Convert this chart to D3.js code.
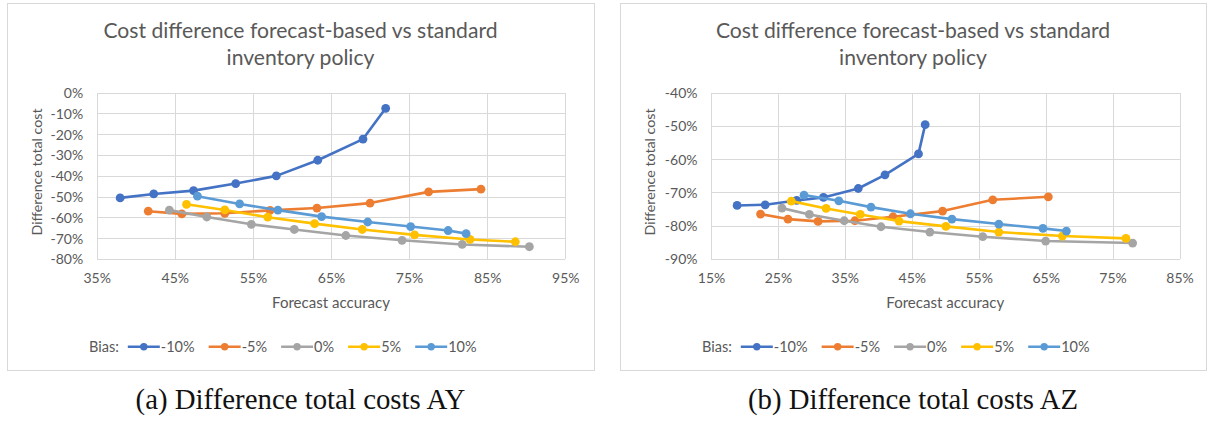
<!DOCTYPE html>
<html>
<head>
<meta charset="utf-8">
<script src="https://cdn.jsdelivr.net/npm/d3@7"></script>
<style>
  html, body { margin: 0; padding: 0; background: #ffffff; }
  svg { display: block; }
</style>
</head>
<body>
<svg id="fig" width="1209" height="422"></svg>
<script>
// ---- data -------------------------------------------------------------
const biasLabels = ["-10%", "-5%", "0%", "5%", "10%"];
const seriesColors = ["#4472C4", "#ED7D31", "#A5A5A5", "#FFC000", "#5B9BD5"];

// Panel (a): AY — forecast accuracy (%) and cost difference (%) per bias
const ayAccuracy = [
  [38.0, 42.3, 47.4, 52.8, 58.0, 63.3, 69.1, 72.0],
  [41.6, 45.9, 51.4, 57.2, 63.2, 70.0, 77.5, 84.2],
  [44.3, 49.1, 54.8, 60.3, 66.9, 74.1, 81.8, 90.4],
  [46.5, 51.4, 56.9, 62.9, 69.0, 75.7, 82.8, 88.6],
  [47.9, 53.3, 58.2, 63.8, 69.7, 75.2, 80.0, 82.3]
];
const ayCost = [
  [-50.6, -48.7, -47.1, -43.7, -40.0, -32.5, -22.3, -7.5],
  [-57.0, -58.3, -58.0, -56.6, -55.5, -53.1, -47.7, -46.4],
  [-56.5, -59.8, -63.3, -65.8, -68.7, -71.0, -73.0, -74.1],
  [-53.7, -56.4, -59.9, -63.0, -65.8, -68.4, -70.6, -71.7],
  [-49.8, -53.5, -56.5, -59.6, -62.2, -64.4, -66.3, -67.8]
];
const ayXTicks = [35, 45, 55, 65, 75, 85, 95];
const ayYTicks = [0, -10, -20, -30, -40, -50, -60, -70, -80];

// Panel (b): AZ
const azAccuracy = [
  [18.9, 23.1, 27.8, 31.8, 37.0, 41.0, 46.0, 47.0],
  [22.4, 26.5, 31.0, 36.5, 42.2, 49.6, 57.1, 65.4],
  [25.6, 29.7, 34.9, 40.4, 47.7, 55.6, 65.0, 78.0],
  [27.0, 32.2, 37.3, 43.1, 50.1, 58.0, 67.5, 77.0],
  [28.9, 34.1, 38.9, 44.8, 51.0, 58.0, 64.6, 68.1]
];
const azCost = [
  [-73.9, -73.7, -72.4, -71.5, -68.8, -64.7, -58.4, -49.6],
  [-76.5, -78.0, -78.7, -78.5, -77.3, -75.6, -72.2, -71.3],
  [-74.7, -76.6, -78.5, -80.3, -81.9, -83.3, -84.6, -85.2],
  [-72.6, -74.8, -76.6, -78.6, -80.2, -81.9, -83.1, -83.8],
  [-70.8, -72.5, -74.4, -76.4, -78.0, -79.5, -80.8, -81.6]
];
const azXTicks = [15, 25, 35, 45, 55, 65, 75, 85];
const azYTicks = [-40, -50, -60, -70, -80, -90];

const chartTitle = ["Cost difference forecast-based vs standard", "inventory policy"];
const xTitle = "Forecast accuracy";
const yTitle = "Difference total cost";
const legendTitle = "Bias:";
const captions = ["(a) Difference total costs AY", "(b) Difference total costs AZ"];

// ---- drawing ----------------------------------------------------------
const svg = d3.select("#fig");
const UI_FONT = "Lato, 'Open Sans', sans-serif";
const TEXT_COLOR = "#595959";
const GRID_COLOR = "#D9D9D9";
const TICK_FS = 14;
const LEGEND_FS = 14.5;

// Scale a text element's font size so its rendered width equals `target`.
function fitWidth(sel, target) {
  const fs = parseFloat(sel.attr("font-size"));
  const w = sel.node().getComputedTextLength();
  sel.attr("font-size", (fs * target / w).toFixed(2));
}

function drawPanel(cfg) {
  const g = svg.append("g");

  // chart frame
  g.append("rect")
    .attr("x", cfg.box[0] + 0.5).attr("y", cfg.box[1] + 0.5)
    .attr("width", cfg.box[2]).attr("height", cfg.box[3])
    .attr("fill", "#fff").attr("stroke", GRID_COLOR).attr("stroke-width", 1);

  const cx = cfg.box[0] + cfg.box[2] / 2;

  // title
  const t1 = g.append("text").text(chartTitle[0])
    .attr("x", cx).attr("y", 37.5).attr("text-anchor", "middle")
    .attr("font-family", UI_FONT).attr("font-size", 18.7).attr("fill", TEXT_COLOR);
  fitWidth(t1, 394);
  g.append("text").text(chartTitle[1])
    .attr("x", cx).attr("y", 64.5).attr("text-anchor", "middle")
    .attr("font-family", UI_FONT).attr("font-size", t1.attr("font-size")).attr("fill", TEXT_COLOR);

  const [L, R, T, B] = cfg.plot;
  const x = d3.scaleLinear().domain(cfg.xDomain).range([L, R]);
  const y = d3.scaleLinear().domain(cfg.yDomain).range([B, T]);

  // gridlines
  g.append("g").attr("transform", `translate(0,${B})`)
    .call(d3.axisBottom(x).tickValues(cfg.xTicks).tickSize(-(B - T)).tickFormat(""))
    .call(s => s.select(".domain").remove())
    .call(s => s.selectAll("line").attr("stroke", GRID_COLOR).attr("shape-rendering", "crispEdges"));
  g.append("g").attr("transform", `translate(${L},0)`)
    .call(d3.axisLeft(y).tickValues(cfg.yTicks).tickSize(-(R - L)).tickFormat(""))
    .call(s => s.select(".domain").remove())
    .call(s => s.selectAll("line").attr("stroke", GRID_COLOR).attr("shape-rendering", "crispEdges"));

  // tick labels
  const fmt = d => d + "%";
  g.append("g").attr("transform", `translate(0,${B})`)
    .call(d3.axisBottom(x).tickValues(cfg.xTicks).tickSize(0).tickFormat(fmt))
    .call(s => s.select(".domain").remove())
    .call(s => s.selectAll("text").attr("y", 19.5).attr("dy", "0.35em")
      .attr("font-family", UI_FONT).attr("font-size", TICK_FS).attr("fill", TEXT_COLOR));
  g.append("g").attr("transform", `translate(${L},0)`)
    .call(d3.axisLeft(y).tickValues(cfg.yTicks).tickSize(0).tickPadding(13.5).tickFormat(fmt))
    .call(s => s.select(".domain").remove())
    .call(s => s.selectAll("text").attr("dy", "0.35em")
      .attr("font-family", UI_FONT).attr("font-size", TICK_FS).attr("fill", TEXT_COLOR));

  // axis titles
  const xt = g.append("text").text(xTitle)
    .attr("x", (L + R) / 2).attr("y", 303).attr("dy", "0.35em").attr("text-anchor", "middle")
    .attr("font-family", UI_FONT).attr("font-size", 14).attr("fill", TEXT_COLOR);
  fitWidth(xt, 118);
  const yt = g.append("text").text(yTitle)
    .attr("transform", `translate(${cfg.box[0] + 30.5},${172}) rotate(-90)`)
    .attr("dy", "0.35em").attr("text-anchor", "middle")
    .attr("font-family", UI_FONT).attr("font-size", 14).attr("fill", TEXT_COLOR);
  fitWidth(yt, 127);

  // series: line + markers, later series painted on top
  const line = d3.line().x(d => x(d[0])).y(d => y(d[1]));
  biasLabels.forEach((b, i) => {
    const pts = cfg.acc[i].map((a, j) => [a, cfg.cost[i][j]]);
    const sg = g.append("g");
    sg.append("path").datum(pts).attr("d", line)
      .attr("fill", "none").attr("stroke", seriesColors[i])
      .attr("stroke-width", 2.6).attr("stroke-linejoin", "round");
    sg.selectAll("circle").data(pts).join("circle")
      .attr("cx", d => x(d[0])).attr("cy", d => y(d[1])).attr("r", 4.4)
      .attr("fill", seriesColors[i]);
  });

  // legend
  const ly = 346.7;
  let lx = cfg.box[0] + 82;
  const lg = g.append("g");
  const bt = lg.append("text").text(legendTitle).attr("x", lx).attr("y", ly).attr("dy", "0.35em")
    .attr("font-family", UI_FONT).attr("font-size", LEGEND_FS).attr("fill", TEXT_COLOR);
  lx += bt.node().getComputedTextLength() + 9;
  biasLabels.forEach((b, i) => {
    lg.append("line").attr("x1", lx).attr("x2", lx + 32).attr("y1", ly).attr("y2", ly)
      .attr("stroke", seriesColors[i]).attr("stroke-width", 2.6);
    lg.append("circle").attr("cx", lx + 16).attr("cy", ly).attr("r", 3.7).attr("fill", seriesColors[i]);
    const tt = lg.append("text").text(b).attr("x", lx + 33).attr("y", ly).attr("dy", "0.35em")
      .attr("font-family", UI_FONT).attr("font-size", LEGEND_FS).attr("fill", TEXT_COLOR);
    lx += 33 + tt.node().getComputedTextLength() + 14;
  });

  // caption under the frame
  const cap = svg.append("text").text(cfg.caption)
    .attr("x", cx).attr("y", 409.3).attr("text-anchor", "middle")
    .attr("font-family", "'Liberation Serif', 'DejaVu Serif', serif")
    .attr("font-size", 26).attr("fill", "#111");
  fitWidth(cap, 330);
}

drawPanel({
  box: [7, 3, 587, 367],
  plot: [96.7, 565.3, 92.7, 259],
  xDomain: [35, 95], yDomain: [-80, 0],
  xTicks: ayXTicks, yTicks: ayYTicks,
  acc: ayAccuracy, cost: ayCost,
  caption: captions[0]
});
drawPanel({
  box: [620, 3, 586, 367],
  plot: [711, 1179.5, 92.7, 259],
  xDomain: [15, 85], yDomain: [-90, -40],
  xTicks: azXTicks, yTicks: azYTicks,
  acc: azAccuracy, cost: azCost,
  caption: captions[1]
});
</script>
</body>
</html>
